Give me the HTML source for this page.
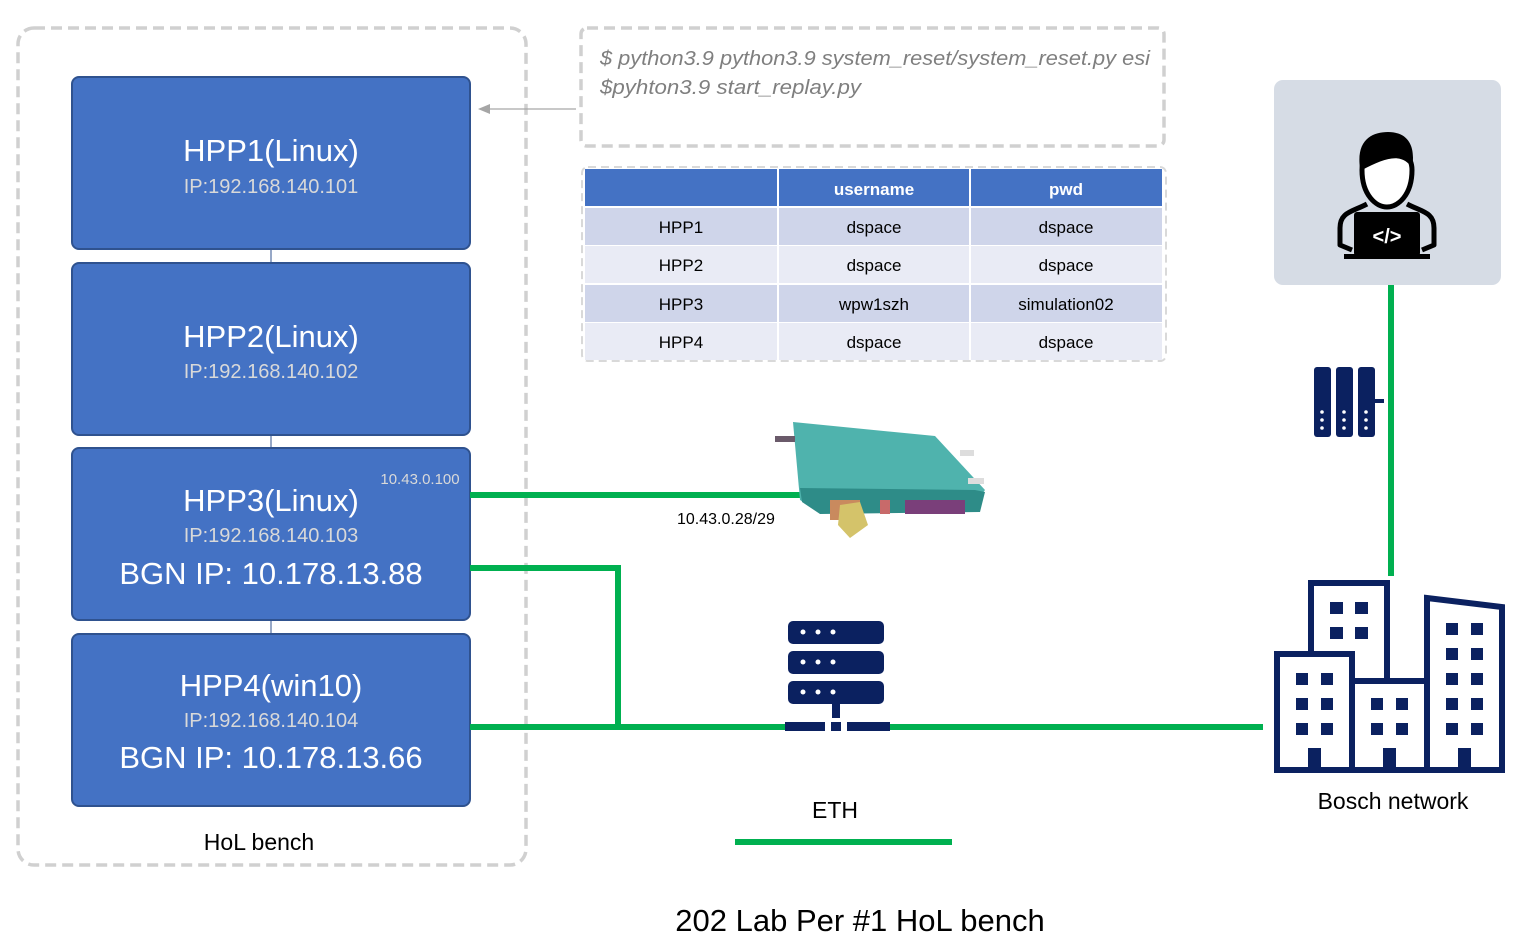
<!DOCTYPE html>
<html><head><meta charset="utf-8"><style>
html,body{margin:0;padding:0;background:#fff;}
svg{display:block;}
text{font-family:"Liberation Sans",sans-serif;}
</style></head><body>
<svg width="1527" height="945" viewBox="0 0 1527 945" xmlns="http://www.w3.org/2000/svg">
<!-- outer dashed bench -->
<rect x="18" y="28" width="508" height="837" rx="16" fill="none" stroke="#d0d0d0" stroke-width="3.5" stroke-dasharray="11,6"/>
<!-- connecting thin lines between boxes -->
<line x1="271" y1="249" x2="271" y2="263" stroke="#2F528F" stroke-width="1"/>
<line x1="271" y1="435" x2="271" y2="448" stroke="#2F528F" stroke-width="1"/>
<line x1="271" y1="620" x2="271" y2="634" stroke="#2F528F" stroke-width="1"/>
<!-- HPP boxes -->
<g fill="#4472C4" stroke="#2F528F" stroke-width="2">
<rect x="72" y="77" width="398" height="172" rx="7"/>
<rect x="72" y="263" width="398" height="172" rx="7"/>
<rect x="72" y="448" width="398" height="172" rx="7"/>
<rect x="72" y="634" width="398" height="172" rx="7"/>
</g>
<g text-anchor="middle" fill="#fff">
<text x="271" y="161" font-size="31">HPP1(Linux)</text>
<text x="271" y="193" font-size="20" fill="#d9d9d9">IP:192.168.140.101</text>
<text x="271" y="347" font-size="31">HPP2(Linux)</text>
<text x="271" y="378" font-size="20" fill="#d9d9d9">IP:192.168.140.102</text>
<text x="271" y="511" font-size="31">HPP3(Linux)</text>
<text x="271" y="542" font-size="20" fill="#d9d9d9">IP:192.168.140.103</text>
<text x="271" y="584" font-size="31">BGN IP: 10.178.13.88</text>
<text x="271" y="696" font-size="31">HPP4(win10)</text>
<text x="271" y="727" font-size="20" fill="#d9d9d9">IP:192.168.140.104</text>
<text x="271" y="768" font-size="31">BGN IP: 10.178.13.66</text>
<text x="420" y="484" font-size="15" fill="#d9d9d9">10.43.0.100</text>
</g>
<text x="259" y="850" font-size="23" text-anchor="middle" fill="#000">HoL bench</text>
<!-- command box -->
<rect x="581" y="28" width="583" height="118" rx="6" fill="none" stroke="#d0d0d0" stroke-width="3.5" stroke-dasharray="11,6"/>
<text x="600" y="65" font-size="20" font-style="italic" fill="#7f7f7f" textLength="550" lengthAdjust="spacingAndGlyphs">$ python3.9 python3.9 system_reset/system_reset.py esi</text>
<text x="600" y="94" font-size="20" font-style="italic" fill="#7f7f7f" textLength="261" lengthAdjust="spacingAndGlyphs">$pyhton3.9 start_replay.py</text>
<!-- arrow -->
<line x1="576" y1="109" x2="488" y2="109" stroke="#a6a6a6" stroke-width="1.2"/>
<polygon points="478,109 490,104 490,114" fill="#a6a6a6"/>
<!-- table -->
<rect x="582" y="167" width="584" height="194" rx="6" fill="none" stroke="#d9d9d9" stroke-width="2" stroke-dasharray="8,5"/>
<g>
<rect x="585" y="169" width="577" height="37" fill="#4472C4"/>
<rect x="585" y="208" width="577" height="37" fill="#CFD5EA"/>
<rect x="585" y="246" width="577" height="37" fill="#E9EBF5"/>
<rect x="585" y="285" width="577" height="37" fill="#CFD5EA"/>
<rect x="585" y="323" width="577" height="37" fill="#E9EBF5"/>
<line x1="778" y1="169" x2="778" y2="360" stroke="#fff" stroke-width="2"/>
<line x1="970" y1="169" x2="970" y2="360" stroke="#fff" stroke-width="2"/>
</g>
<g text-anchor="middle" font-size="17" fill="#000">
<text x="874" y="195" font-weight="bold" fill="#fff">username</text>
<text x="1066" y="195" font-weight="bold" fill="#fff">pwd</text>
<text x="681" y="233">HPP1</text><text x="874" y="233">dspace</text><text x="1066" y="233">dspace</text>
<text x="681" y="271">HPP2</text><text x="874" y="271">dspace</text><text x="1066" y="271">dspace</text>
<text x="681" y="310">HPP3</text><text x="874" y="310">wpw1szh</text><text x="1066" y="310">simulation02</text>
<text x="681" y="348">HPP4</text><text x="874" y="348">dspace</text><text x="1066" y="348">dspace</text>
</g>
<!-- green lines -->
<g stroke="#00B050" stroke-width="6" fill="none">
<line x1="470" y1="495" x2="800" y2="495"/>
<polyline points="470,568 618,568 618,727 785,727"/>
<line x1="470" y1="727" x2="618" y2="727"/>
<line x1="890" y1="727" x2="1263" y2="727"/>
<line x1="1391" y1="283" x2="1391" y2="576"/>
<line x1="735" y1="842" x2="952" y2="842"/>
</g>
<text x="677" y="524" font-size="16" fill="#000">10.43.0.28/29</text>
<!-- board (approx) -->
<g>
<polygon points="793,422 935,436 985,490 970,510 820,512 800,500" fill="#4fb3ad"/>
<polygon points="800,488 975,490 985,492 980,512 820,514 802,502" fill="#2e8c88"/>
<rect x="830" y="500" width="30" height="20" fill="#c98a5e"/>
<polygon points="840,505 860,502 868,525 850,538 838,525" fill="#d4c36a"/>
<rect x="880" y="500" width="10" height="14" fill="#c86a6a"/>
<rect x="905" y="500" width="60" height="14" fill="#7a3f7a"/>
<rect x="775" y="436" width="20" height="6" fill="#6a5a6a"/>
<rect x="960" y="450" width="14" height="6" fill="#ddd"/>
<rect x="968" y="478" width="16" height="6" fill="#ddd"/>
</g>
<!-- server icon -->
<g fill="#0b2160">
<rect x="788" y="621" width="96" height="23" rx="5"/>
<rect x="788" y="651" width="96" height="23" rx="5"/>
<rect x="788" y="681" width="96" height="23" rx="5"/>
<rect x="832" y="704" width="8" height="14"/>
<rect x="785" y="722" width="40" height="9"/>
<rect x="831" y="722" width="10" height="9"/>
<rect x="847" y="722" width="43" height="9"/>
</g>
<g fill="#fff">
<circle cx="803" cy="632" r="2.5"/><circle cx="818" cy="632" r="2.5"/><circle cx="833" cy="632" r="2.5"/>
<circle cx="803" cy="662" r="2.5"/><circle cx="818" cy="662" r="2.5"/><circle cx="833" cy="662" r="2.5"/>
<circle cx="803" cy="692" r="2.5"/><circle cx="818" cy="692" r="2.5"/><circle cx="833" cy="692" r="2.5"/>
</g>
<text x="835" y="818" font-size="23" text-anchor="middle" fill="#000">ETH</text>
<!-- person box -->
<rect x="1274" y="80" width="227" height="205" rx="9" fill="#D6DCE5"/>
<g fill="none" stroke="#000" stroke-width="5" stroke-linejoin="round">
<path d="M1362,170 C1362,140 1412,140 1412,170 C1412,195 1398,207 1387,207 C1376,207 1362,195 1362,170 Z" fill="#fff"/>
<path d="M1367,204 C1352,212 1340,212 1340,228 L1340,245 L1352,250 M1407,204 C1422,212 1434,212 1434,228 L1434,245 L1422,250"/>
</g>
<path d="M1360,168 C1356,140 1372,132 1388,132 C1408,132 1416,146 1412,168 C1402,152 1385,158 1362,170 Z" fill="#000"/>
<rect x="1354" y="212" width="66" height="44" rx="3" fill="#000"/>
<rect x="1344" y="254" width="86" height="5" fill="#000"/>
<text x="1387" y="243" font-size="20" text-anchor="middle" fill="#fff" font-weight="bold">&lt;/&gt;</text>
<!-- racks -->
<g fill="#0b2160">
<rect x="1314" y="367" width="17" height="70" rx="3"/>
<rect x="1336" y="367" width="17" height="70" rx="3"/>
<rect x="1358" y="367" width="17" height="70" rx="3"/>
<rect x="1374" y="399" width="10" height="4"/>
</g>
<g fill="#fff">
<circle cx="1322" cy="412" r="1.8"/><circle cx="1322" cy="420" r="1.8"/><circle cx="1322" cy="428" r="1.8"/>
<circle cx="1344" cy="412" r="1.8"/><circle cx="1344" cy="420" r="1.8"/><circle cx="1344" cy="428" r="1.8"/>
<circle cx="1366" cy="412" r="1.8"/><circle cx="1366" cy="420" r="1.8"/><circle cx="1366" cy="428" r="1.8"/>
</g>
<!-- buildings -->
<g fill="none" stroke="#0b2160" stroke-width="6">
<polyline points="1311,654 1311,583 1387,583 1387,681"/>
<rect x="1277" y="654" width="75" height="116"/>
<rect x="1352" y="681" width="75" height="89"/>
<polygon points="1427,598 1502,607 1502,770 1427,770"/>
</g>
<g fill="#0b2160">
<rect x="1330" y="602" width="13" height="12"/><rect x="1355" y="602" width="13" height="12"/>
<rect x="1330" y="627" width="13" height="12"/><rect x="1355" y="627" width="13" height="12"/>
<rect x="1296" y="673" width="12" height="12"/><rect x="1321" y="673" width="12" height="12"/>
<rect x="1296" y="698" width="12" height="12"/><rect x="1321" y="698" width="12" height="12"/>
<rect x="1296" y="723" width="12" height="12"/><rect x="1321" y="723" width="12" height="12"/>
<rect x="1371" y="698" width="12" height="12"/><rect x="1396" y="698" width="12" height="12"/>
<rect x="1371" y="723" width="12" height="12"/><rect x="1396" y="723" width="12" height="12"/>
<rect x="1446" y="623" width="12" height="12"/><rect x="1471" y="623" width="12" height="12"/>
<rect x="1446" y="648" width="12" height="12"/><rect x="1471" y="648" width="12" height="12"/>
<rect x="1446" y="673" width="12" height="12"/><rect x="1471" y="673" width="12" height="12"/>
<rect x="1446" y="698" width="12" height="12"/><rect x="1471" y="698" width="12" height="12"/>
<rect x="1446" y="723" width="12" height="12"/><rect x="1471" y="723" width="12" height="12"/>
<rect x="1308" y="748" width="13" height="22"/><rect x="1383" y="748" width="13" height="22"/><rect x="1458" y="748" width="13" height="22"/>
</g>
<text x="1393" y="809" font-size="23" text-anchor="middle" fill="#000">Bosch network</text>
<text x="860" y="931" font-size="31" text-anchor="middle" fill="#000">202 Lab Per #1 HoL bench</text>
</svg>
</body></html>
